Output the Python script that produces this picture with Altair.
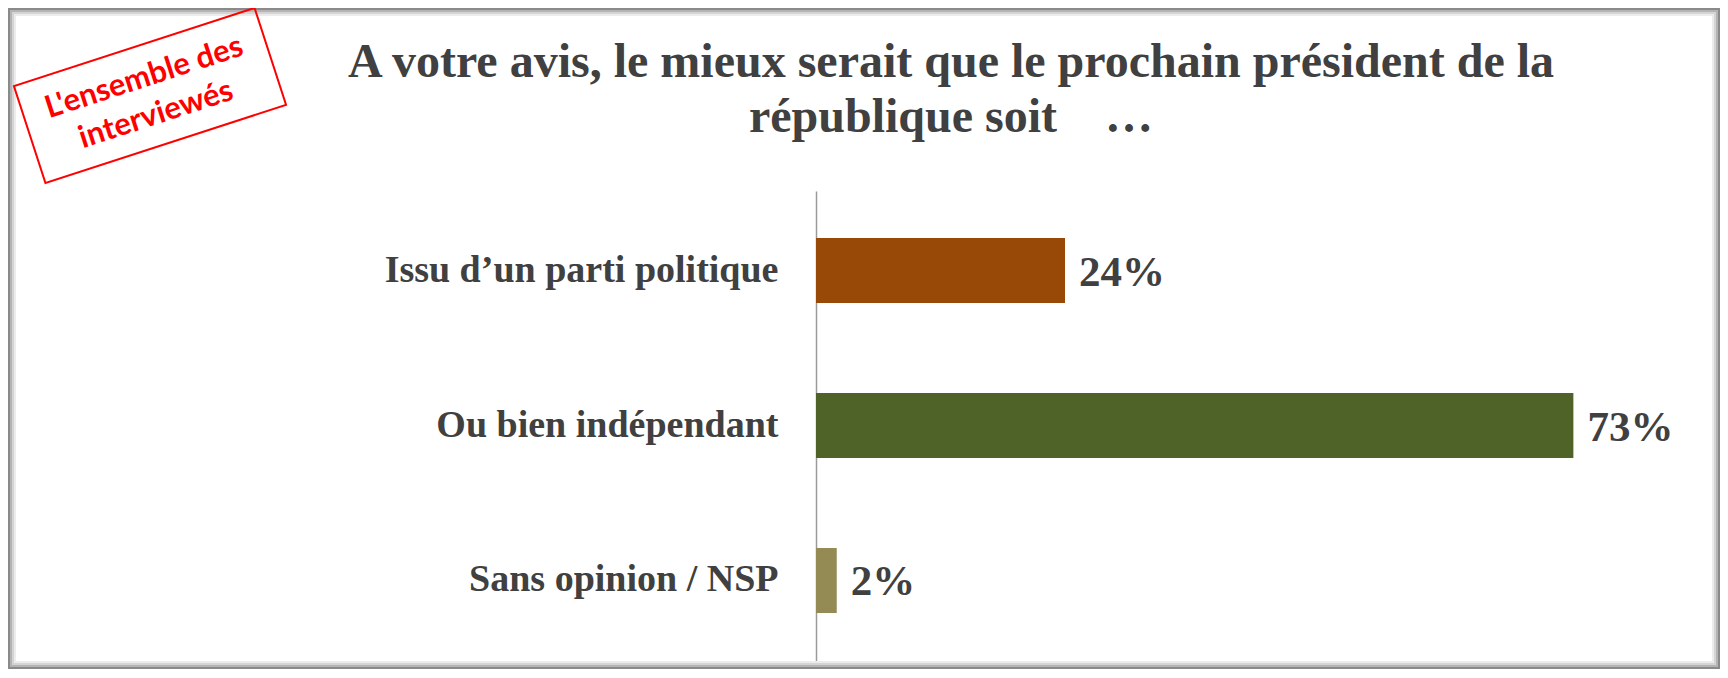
import altair as alt
import pandas as pd

# ---- data ----
categories = ["Issu d’un parti politique", "Ou bien indépendant", "Sans opinion / NSP"]
values = [24, 73, 2]
bar_colors = ["#984807", "#4F6228", "#948A54"]
title_lines = ["A votre avis, le mieux serait que le prochain président de la",
               "république soit\u00a0\u00a0\u00a0 …"]
stamp_lines = ["L'ensemble des", "interviewés"]

df = pd.DataFrame({"cat": categories, "val": values, "color": bar_colors})
df["label"] = df["val"].astype(str) + "%"

one = pd.DataFrame({"k": [0]})

TEXT = "#404040"
SERIF = "Liberation Serif"

y_enc = alt.Y(
    "cat:N",
    sort=categories,
    scale=alt.Scale(paddingInner=0.58, paddingOuter=0.3225, align=0.47),
    axis=alt.Axis(
        title=None, ticks=False, grid=False,
        labelPadding=38, labelFont=SERIF, labelFontWeight="bold",
        labelFontSize=38, labelColor=TEXT, labelLimit=700,
        domainColor="#9a9a9a", domainWidth=1.5,
    ),
)
x_enc = alt.X("val:Q", scale=alt.Scale(domain=[0, 80]), axis=None)

bars = alt.Chart(df).mark_bar().encode(
    x=x_enc, y=y_enc,
    color=alt.Color("color:N", scale=None, legend=None),
)

value_labels = alt.Chart(df).mark_text(
    align="left", baseline="middle", dx=14, dy=2,
    font=SERIF, fontWeight="bold", fontSize=43, color=TEXT,
).encode(x=x_enc, y=y_enc, text="label:N")

# decorative frame (page border with soft shadow)
frame_specs = [
    (-807, 903, -182, 477, "#8a8a8a", 2),
    (-805, 901, -180, 475, "#b4b4b4", 2),
    (-803, 899, -178, 473, "#d4d4d4", 2),
    (-801, 897, -176, 471, "#ececec", 2),
]
frames = [
    alt.Chart(one).mark_rect(fillOpacity=0, stroke=c, strokeWidth=w).encode(
        x=alt.value(x0), x2=alt.value(x1), y=alt.value(y0), y2=alt.value(y1)
    )
    for (x0, x1, y0, y1, c, w) in frame_specs
]

title = alt.Chart(one).mark_text(
    align="center", baseline="alphabetic", font=SERIF, fontWeight="bold",
    fontSize=48, lineHeight=55, color=TEXT,
).encode(x=alt.value(135), y=alt.value(-114), text=alt.value(title_lines))

stamp_box = alt.Chart(one).mark_point(
    shape="M-1,-0.403L1,-0.403L1,0.403L-1,0.403Z",
    size=253 * 253, angle=342, filled=False, stroke="#ff0000",
    strokeWidth=2, opacity=1,
).encode(x=alt.value(-666), y=alt.value(-95.5))

stamp_text = alt.Chart(one).mark_text(
    align="center", baseline="middle", angle=342, font="Lato",
    fontWeight="bold", fontSize=31, lineHeight=39, dy=-19, color="#ff0000",
).encode(x=alt.value(-666), y=alt.value(-95), text=alt.value(stamp_lines))

chart = alt.layer(
    *frames, bars, value_labels, title, stamp_box, stamp_text
).properties(
    width=830, height=475,
    padding={"left": 808, "top": 183, "right": 74, "bottom": 3},
    autosize="none",
    background="white",
).configure_view(stroke=None)

chart.save("out.html", embed_options={"renderer": "svg", "actions": False})
